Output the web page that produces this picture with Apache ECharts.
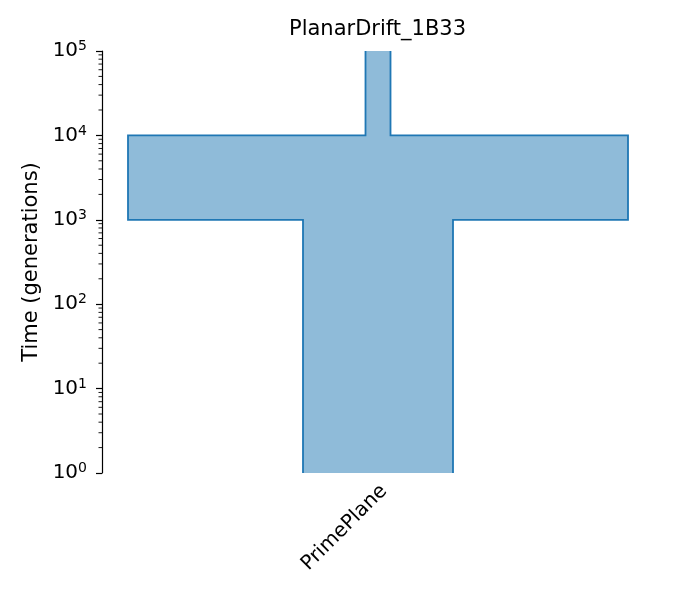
<!DOCTYPE html>
<html>
<head>
<meta charset="utf-8">
<script src="https://cdn.jsdelivr.net/npm/echarts@6/dist/echarts.min.js"></script>
<style>
html, body { margin: 0; padding: 0; background: #fff; }
#chart { width: 675px; height: 600px; }
</style>
</head>
<body>
<div id="chart"></div>
<script>
// deme epochs, from oldest to most recent
var demeName = 'PrimePlane';
var epochStart = [100000, 10000, 1000];
var epochEnd = [10000, 1000, 1];
var epochSize = [500, 10000, 3000];
var majorTicks = [1, 10, 100, 1000, 10000, 100000];

var fillColor = 'rgba(31,119,180,0.5)';
var lineColor = '#1f77b4';
var xHalf = 5520;
var font = 'DejaVu Sans';

function minorTickValues() {
	var out = [];
	for (var i = 0; i < majorTicks.length - 1; i++) {
		for (var m = 2; m <= 9; m++) {
			out.push(majorTicks[i] * m);
		}
	}
	return out;
}

// outline of one side of the deme, top to bottom
function sidePoints(api, sign) {
	var pts = [];
	for (var i = 0; i < epochSize.length; i++) {
		var half = sign * epochSize[i] / 2;
		pts.push(api.coord([half, epochStart[i]]));
		pts.push(api.coord([half, epochEnd[i]]));
	}
	return pts;
}

var graph = echarts.init(document.getElementById('chart'));

var option = {
	animation : false,
	title : {
		text : 'PlanarDrift_1B33',
		left : 289,
		top : 19,
		padding : 0,
		textStyle : {
			fontFamily : font,
			fontSize : 21,
			fontWeight : 'normal',
			color : '#000'
		}
	},
	grid : {
		left : 102,
		right : 21,
		top : 51,
		bottom : 127
	},
	xAxis : [ {
		type : 'value',
		min : -xHalf,
		max : xHalf,
		show : false
	}, {
		type : 'category',
		data : [ demeName ],
		position : 'bottom',
		axisLine : { show : false },
		axisTick : { show : false },
		axisLabel : {
			rotate : 45,
			margin : 9,
			lineHeight : 17,
			fontFamily : font,
			fontSize : 20,
			color : '#000',
			// empty first line nudges the rotated label down-right like matplotlib
			formatter : function(v) {
				return '\n' + v;
			}
		}
	} ],
	yAxis : {
		type : 'log',
		logBase : 10,
		min : 1,
		max : 100000,
		name : 'Time (generations)',
		nameLocation : 'middle',
		nameGap : 59,
		nameTextStyle : {
			fontFamily : font,
			fontSize : 21,
			color : '#000'
		},
		splitLine : { show : false },
		axisLine : {
			onZero : false,
			lineStyle : { color : '#000', width : 1.2 }
		},
		axisTick : {
			length : 6,
			lineStyle : { color : '#000', width : 1.2 }
		},
		axisLabel : {
			margin : 15,
			color : '#000',
			fontFamily : font,
			fontSize : 20,
			formatter : function(v) {
				return '10{s|' + Math.round(Math.log10(v)) + '}';
			},
			rich : {
				s : {
					fontFamily : font,
					fontSize : 14,
					verticalAlign : 'top',
					padding : [ 0, 0, 9, 0 ],
					color : '#000'
				}
			}
		}
	},
	series : [ {
		type : 'custom',
		xAxisIndex : 0,
		data : [ 0 ],
		clip : true,
		renderItem : function(params, api) {
			var left = sidePoints(api, -1);
			var right = sidePoints(api, 1).reverse();
			return {
				type : 'group',
				children : [ {
					type : 'polygon',
					shape : { points : left.concat(right) },
					style : { fill : fillColor, stroke : null }
				}, {
					type : 'polyline',
					shape : { points : left },
					style : { fill : null, stroke : lineColor, lineWidth : 1.8 }
				}, {
					type : 'polyline',
					shape : { points : right },
					style : { fill : null, stroke : lineColor, lineWidth : 1.8 }
				} ]
			};
		}
	}, {
		type : 'custom',
		xAxisIndex : 0,
		data : minorTickValues(),
		clip : false,
		renderItem : function(params, api) {
			var p = api.coord([ -xHalf, api.value(0) ]);
			return {
				type : 'line',
				shape : { x1 : p[0] - 3.5, y1 : p[1], x2 : p[0], y2 : p[1] },
				style : { stroke : '#000', lineWidth : 0.9 }
			};
		},
		encode : { y : 0 }
	} ]
};

graph.setOption(option);
</script>
</body>
</html>
